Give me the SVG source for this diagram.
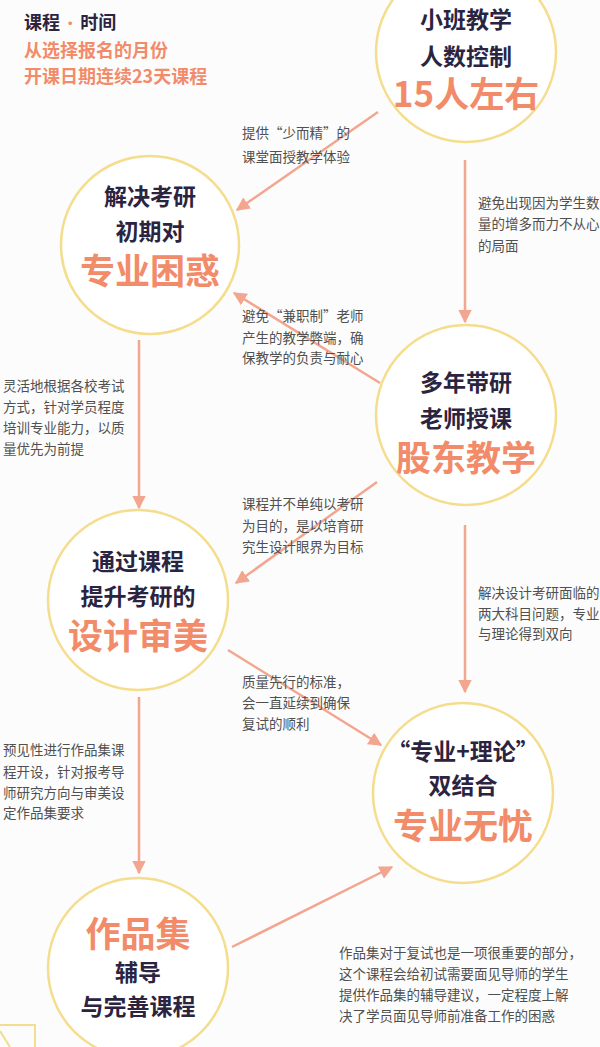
<svg xmlns="http://www.w3.org/2000/svg" width="600" height="1047" viewBox="0 0 600 1047">
<defs>
<marker id="ah" viewBox="0 0 10 10" refX="9" refY="5" markerWidth="5.5" markerHeight="5.5" orient="auto" markerUnits="strokeWidth">
<path d="M0,0 L10,5 L0,10 Z" fill="#f3a68f"/>
</marker>
<style>
.c{fill:#ffffff;stroke:#f4dd8c;stroke-width:2.5}
.t{font-family:"Noto Sans CJK SC","Noto Sans",sans-serif;font-weight:bold;font-size:23px;fill:#2b2440;text-anchor:middle}
.b{font-family:"Noto Sans CJK SC","Noto Sans",sans-serif;font-weight:bold;font-size:35px;fill:#f28b69;text-anchor:middle}
.l{font-family:"Noto Sans CJK SC","Noto Sans",sans-serif;font-size:13.5px;fill:#505050}
.h{font-family:"Noto Sans CJK SC","Noto Sans",sans-serif;font-weight:bold;font-size:18px}
.a{fill:none;stroke:#f3a68f;stroke-width:2.5;marker-end:url(#ah)}
</style>
</defs>
<rect width="600" height="1047" fill="#fdfcfc"/>
<g id="header">
<text class="h" x="24" y="29" fill="#2b2440">课程<tspan fill="#f28b69" font-size="14" dy="-1"> • </tspan><tspan dy="1">时间</tspan></text>
<text class="h" x="24" y="57" fill="#f28b69">从选择报名的月份</text>
<text class="h" x="24" y="83" fill="#f28b69">开课日期连续23天课程</text>
</g>
<g id="connectors">
<line class="a" x1="378" y1="112" x2="237" y2="210"/>
<line class="a" x1="465" y1="160" x2="465" y2="322"/>
<line class="a" x1="380" y1="383" x2="234" y2="293"/>
<line class="a" x1="139" y1="340" x2="139" y2="508"/>
<line class="a" x1="377" y1="482" x2="236" y2="583"/>
<line class="a" x1="465" y1="525" x2="465" y2="692"/>
<line class="a" x1="228" y1="650" x2="381" y2="745"/>
<line class="a" x1="139" y1="697" x2="139" y2="873"/>
<line class="a" x1="232" y1="947" x2="392" y2="867"/>
</g>
<g id="labels">
<text class="l" x="242" y="138">提供“少而精”的</text>
<text class="l" x="242" y="162">课堂面授教学体验</text>
<text class="l" x="478" y="208">避免出现因为学生数</text>
<text class="l" x="478" y="229">量的增多而力不从心</text>
<text class="l" x="478" y="251">的局面</text>
<text class="l" x="242" y="321">避免“兼职制”老师</text>
<text class="l" x="242" y="343">产生的教学弊端，确</text>
<text class="l" x="242" y="363">保教学的负责与耐心</text>
<text class="l" x="3" y="391">灵活地根据各校考试</text>
<text class="l" x="3" y="412">方式，针对学员程度</text>
<text class="l" x="3" y="433">培训专业能力，以质</text>
<text class="l" x="3" y="454">量优先为前提</text>
<text class="l" x="242" y="509">课程并不单纯以考研</text>
<text class="l" x="242" y="531">为目的，是以培育研</text>
<text class="l" x="242" y="552">究生设计眼界为目标</text>
<text class="l" x="478" y="598">解决设计考研面临的</text>
<text class="l" x="478" y="619">两大科目问题，专业</text>
<text class="l" x="478" y="639">与理论得到双向</text>
<text class="l" x="242" y="687">质量先行的标准，</text>
<text class="l" x="242" y="708">会一直延续到确保</text>
<text class="l" x="242" y="729">复试的顺利</text>
<text class="l" x="3" y="755">预见性进行作品集课</text>
<text class="l" x="3" y="777">程开设，针对报考导</text>
<text class="l" x="3" y="798">师研究方向与审美设</text>
<text class="l" x="3" y="818">定作品集要求</text>
<text class="l" x="339" y="958">作品集对于复试也是一项很重要的部分，</text>
<text class="l" x="339" y="979">这个课程会给初试需要面见导师的学生</text>
<text class="l" x="339" y="1000">提供作品集的辅导建议，一定程度上解</text>
<text class="l" x="339" y="1021">决了学员面见导师前准备工作的困惑</text>
</g>
<g id="node1">
<circle class="c" cx="466" cy="52" r="90"/>
<text class="t" x="466" y="28">小班教学</text>
<text class="t" x="466" y="65">人数控制</text>
<text class="b" x="466" y="107">15人左右</text>
</g>
<g id="node2">
<circle class="c" cx="150" cy="245" r="89"/>
<text class="t" x="150" y="205">解决考研</text>
<text class="t" x="150" y="240">初期对</text>
<text class="b" x="150" y="284">专业困惑</text>
</g>
<g id="node3">
<circle class="c" cx="466" cy="415" r="90"/>
<text class="t" x="466" y="391">多年带研</text>
<text class="t" x="466" y="427">老师授课</text>
<text class="b" x="466" y="471">股东教学</text>
</g>
<g id="node4">
<circle class="c" cx="138" cy="600" r="90"/>
<text class="t" x="138" y="570">通过课程</text>
<text class="t" x="138" y="605">提升考研的</text>
<text class="b" x="138" y="649">设计审美</text>
</g>
<g id="node5">
<circle class="c" cx="463" cy="793" r="90"/>
<text class="t" x="463" y="760">“专业+理论”</text>
<text class="t" x="463" y="794">双结合</text>
<text class="b" x="463" y="839">专业无忧</text>
</g>
<g id="node6">
<circle class="c" cx="138" cy="968" r="90"/>
<text class="b" x="138" y="947">作品集</text>
<text class="t" x="138" y="981" font-size="22">辅导</text>
<text class="t" x="138" y="1015" font-size="22">与完善课程</text>
</g>
<path d="M0,1025 H35 V1047 M0,1031 L10,1047" fill="none" stroke="#f4dd8c" stroke-width="2"/>
</svg>
